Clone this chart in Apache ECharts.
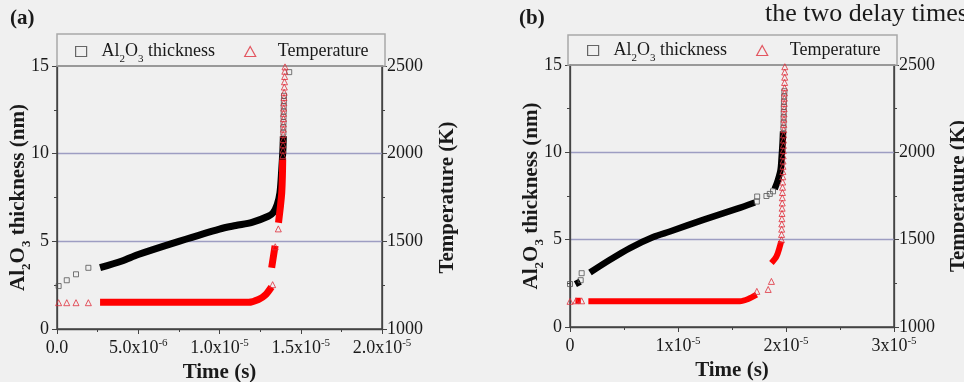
<!DOCTYPE html>
<html><head><meta charset="utf-8">
<script src="https://cdn.jsdelivr.net/npm/echarts@6/dist/echarts.min.js"></script>
<style>html,body{margin:0;padding:0;background:#f0f0f0;}#c{width:964px;height:382px;}</style>
</head><body><div id="c"></div>
<script>
// ---------- tick labels ----------
const xTicksA = ['0.0', '5.0x10^-6', '1.0x10^-5', '1.5x10^-5', '2.0x10^-5'];
const xTicksB = ['0', '1x10^-5', '2x10^-5', '3x10^-5'];

// ---------- panel (a) ----------
// open squares: Al2O3 thickness (nm) vs time (s)
const thickOpenA = [
  [0.1e-6, 2.45], [0.6e-6, 2.78], [1.17e-6, 3.12], [1.93e-6, 3.49],
  [13.93e-6, 11.2], [13.93e-6, 11.5], [13.94e-6, 11.8], [13.94e-6, 12.1],
  [13.95e-6, 12.4], [13.95e-6, 12.7], [13.96e-6, 13.0], [13.97e-6, 13.3],
  [14.29e-6, 14.65]
];
// densely packed squares (drawn as a thick band)
const thickBandA = [
  [2.65e-6, 3.5], [4e-6, 3.88], [5e-6, 4.25], [7.5e-6, 5.0], [10e-6, 5.7],
  [11e-6, 5.9], [12e-6, 6.08], [13e-6, 6.43], [13.3e-6, 6.63], [13.55e-6, 7.1],
  [13.72e-6, 7.77], [13.83e-6, 9.1], [13.9e-6, 10.2], [13.93e-6, 11.0]
];
// open triangles: temperature (K)
const tempOpenA = [
  [0.1e-6, 1150], [0.6e-6, 1150], [1.17e-6, 1150], [1.93e-6, 1150],
  [13.27e-6, 1253], [13.43e-6, 1469], [13.62e-6, 1571],
  [13.9e-6, 1990], [13.91e-6, 2020], [13.91e-6, 2050], [13.92e-6, 2080],
  [13.92e-6, 2110], [13.93e-6, 2140], [13.93e-6, 2170], [13.94e-6, 2200],
  [13.94e-6, 2230], [13.95e-6, 2260], [13.96e-6, 2290], [13.97e-6, 2320],
  [13.98e-6, 2350], [13.99e-6, 2380], [14.0e-6, 2410], [14.01e-6, 2440],
  [14.02e-6, 2470], [14.03e-6, 2495]
];
const tempBandA = [
  [2.65e-6, 1152], [11.8e-6, 1152], [12.4e-6, 1168], [12.8e-6, 1192], [13.2e-6, 1240],
  ['-', '-'],
  [13.21e-6, 1349], [13.42e-6, 1475],
  ['-', '-'],
  [13.63e-6, 1606], [13.75e-6, 1700], [13.83e-6, 1777], [13.87e-6, 1870], [13.89e-6, 1967]
];

// ---------- panel (b) ----------
const thickOpenB = [
  [0, 2.46], [0.99e-6, 2.68], [1.08e-6, 3.08],
  [17.3e-6, 7.18], [17.33e-6, 7.47], [18.19e-6, 7.5], [18.5e-6, 7.62], [18.8e-6, 7.77],
  [19.76e-6, 11.4], [19.77e-6, 11.7], [19.78e-6, 12.0], [19.79e-6, 12.3],
  [19.8e-6, 12.6], [19.81e-6, 12.9], [19.83e-6, 13.2], [19.85e-6, 13.5]
];
const thickBandB = [
  [0.5e-6, 2.45], [0.95e-6, 2.6],
  ['-', '-'],
  [1.85e-6, 3.12], [3.7e-6, 3.85], [5.55e-6, 4.52], [7.71e-6, 5.15], [9.25e-6, 5.47],
  [12.33e-6, 6.13], [15.42e-6, 6.76], [17.11e-6, 7.13],
  ['-', '-'],
  [18.95e-6, 7.9], [19.25e-6, 8.4], [19.5e-6, 9.0], [19.6e-6, 9.75], [19.68e-6, 10.5], [19.73e-6, 11.2]
];
const tempOpenB = [
  [0, 1147], [0.55e-6, 1150], [1.08e-6, 1150],
  [17.3e-6, 1204], [18.35e-6, 1215], [18.65e-6, 1261],
  [19.58e-6, 1500], [19.59e-6, 1530], [19.6e-6, 1560], [19.61e-6, 1590], [19.62e-6, 1620],
  [19.63e-6, 1650], [19.64e-6, 1680], [19.65e-6, 1710], [19.66e-6, 1740], [19.67e-6, 1770],
  [19.68e-6, 1800], [19.69e-6, 1830], [19.7e-6, 1860], [19.71e-6, 1890], [19.72e-6, 1920],
  [19.73e-6, 1950], [19.74e-6, 1980], [19.75e-6, 2010], [19.76e-6, 2040], [19.77e-6, 2070],
  [19.78e-6, 2100], [19.79e-6, 2130], [19.8e-6, 2160], [19.81e-6, 2190], [19.82e-6, 2220],
  [19.83e-6, 2250], [19.84e-6, 2280], [19.85e-6, 2310], [19.86e-6, 2340], [19.87e-6, 2370],
  [19.87e-6, 2400], [19.88e-6, 2430], [19.88e-6, 2460], [19.89e-6, 2490]
];
const tempBandB = [
  [0.5e-6, 1150], [1.0e-6, 1150],
  ['-', '-'],
  [1.7e-6, 1147], [15.73e-6, 1147], [16.5e-6, 1160], [17.27e-6, 1185],
  ['-', '-'],
  [18.65e-6, 1366], [19.12e-6, 1404], [19.43e-6, 1461], [19.55e-6, 1490]
];

// ---------- chart ----------
const FONT = 'Liberation Serif';
const TXT = '#1a1a1a';
const AXIS = '#444';
const GRIDC = '#9d9dc2';
const RED = '#ff0000';
const REDO = '#e0303c';

function supLabel(s) {
  const p = s.split('^');
  return p.length > 1 ? '{m|' + p[0] + '}{e|' + p[1] + '}' : '{m|' + p[0] + '}';
}
const supRich = {
  m: { fontFamily: FONT, fontSize: 18, color: TXT, lineHeight: 20 },
  e: { fontFamily: FONT, fontSize: 11, color: TXT, verticalAlign: 'top', padding: [0, 0, 5, 0] }
};
const subRich = (size, weight) => ({
  n: { fontFamily: FONT, fontSize: size, fontWeight: weight, color: TXT, lineHeight: size + 2 },
  s: { fontFamily: FONT, fontSize: Math.round(size * 0.6), fontWeight: weight, color: TXT, lineHeight: 11, padding: [16, 0, 0, 0] },
  p1: { fontFamily: FONT, fontSize: size, color: TXT, padding: [0, 0, 0, 10] },
  p2: { fontFamily: FONT, fontSize: size, color: TXT, padding: [0, 0, 0, 17] }
});
const thickName = '{n|Al}{s|2}{n|O}{s|3}{n| thickness (nm)}';

function xAxisFor(gi, max, interval, ticks) {
  return {
    type: 'value', gridIndex: gi, min: 0, max: max, interval: interval,
    axisLine: { show: true, lineStyle: { color: AXIS, width: 1.3 } },
    axisTick: { show: true, inside: false, length: 5, lineStyle: { color: AXIS } },
    minorTick: { show: true, splitNumber: 2, length: 3, lineStyle: { color: AXIS } },
    splitLine: { show: false },
    axisLabel: {
      margin: 9, showMinLabel: true, showMaxLabel: true, hideOverlap: false,
      formatter: v => supLabel(ticks[Math.round(v / interval)] || ''),
      rich: supRich
    },
    name: 'Time (s)', nameLocation: 'middle', nameGap: 33,
    nameTextStyle: { fontFamily: FONT, fontWeight: 'bold', fontSize: 21, color: TXT }
  };
}
function yLeft(gi) {
  return {
    type: 'value', gridIndex: gi, min: 0, max: 15, interval: 5, position: 'left',
    axisLine: { show: true, lineStyle: { color: AXIS, width: 1.3 } },
    axisTick: { show: true, inside: false, length: 5, lineStyle: { color: AXIS } },
    minorTick: { show: true, splitNumber: 2, length: 3, lineStyle: { color: AXIS } },
    splitLine: { show: true, showMinLine: false, showMaxLine: false, lineStyle: { color: GRIDC, width: 1.3 } },
    axisLabel: { margin: 8, fontFamily: FONT, fontSize: 18, color: TXT, formatter: v => String(v) },
    name: thickName, nameLocation: 'middle', nameGap: 27, nameRotate: 90, nameMoveOverlap: false,
    nameTextStyle: { rich: subRich(21, 'bold') }
  };
}
function yRight(gi, gap) {
  return {
    type: 'value', gridIndex: gi, min: 1000, max: 2500, interval: 500, position: 'right',
    axisLine: { show: true, lineStyle: { color: AXIS, width: 1.3 } },
    axisTick: { show: true, inside: false, length: 5, lineStyle: { color: AXIS } },
    minorTick: { show: true, splitNumber: 2, length: 3, lineStyle: { color: AXIS } },
    splitLine: { show: false },
    axisLabel: { margin: 5, fontFamily: FONT, fontSize: 18, color: TXT, formatter: v => String(v) },
    name: 'Temperature (K)', nameLocation: 'middle', nameGap: gap, nameRotate: 90,
    nameTextStyle: { fontFamily: FONT, fontWeight: 'bold', fontSize: 21, color: TXT }
  };
}
function band(name, xi, yi, data, color, w) {
  return {
    name: name, type: 'line', xAxisIndex: xi, yAxisIndex: yi, data: data,
    showSymbol: false, symbol: 'none', connectNulls: false, silent: true, smooth: 0.3,
    lineStyle: { color: color, width: w, cap: 'butt', join: 'round' }, z: 2
  };
}
function open(name, xi, yi, data, symbol, color, size) {
  return {
    name: name, type: 'scatter', xAxisIndex: xi, yAxisIndex: yi, data: data,
    symbol: symbol, symbolSize: size, silent: true,
    itemStyle: { color: 'transparent', borderColor: color, borderWidth: 1 }, z: 3
  };
}
const legendFmt = n => n === 'Al2O3 thickness'
  ? '{p1|Al}{s|2}{n|O}{s|3}{n| thickness}'
  : '{p2|Temperature}';
function legendFor(left, top) {
  return {
    left: left, top: top, padding: 0, orient: 'horizontal', itemWidth: 11, itemHeight: 10, itemGap: 29,
    selectedMode: false,
    data: [
      { name: 'Al2O3 thickness', icon: 'rect', itemStyle: { color: 'transparent', borderColor: '#444', borderWidth: 1.2 } },
      { name: 'Temperature', icon: 'triangle', itemStyle: { color: 'transparent', borderColor: REDO, borderWidth: 1.2 } }
    ],
    formatter: legendFmt,
    textStyle: { fontFamily: FONT, fontSize: 18, color: TXT, rich: subRich(18, 'normal') }
  };
}

const chart = echarts.init(document.getElementById('c'), null, { renderer: 'canvas' });
chart.setOption({
  backgroundColor: '#f0f0f0',
  animation: false,
  textStyle: { fontFamily: FONT },
  grid: [
    { left: 57, top: 66, width: 325, height: 263, containLabel: false, outerBoundsMode: 'none', show: true, borderColor: AXIS, borderWidth: 1.5, backgroundColor: 'transparent' },
    { left: 570, top: 65, width: 324, height: 262, containLabel: false, outerBoundsMode: 'none', show: true, borderColor: AXIS, borderWidth: 1.5, backgroundColor: 'transparent' }
  ],
  xAxis: [xAxisFor(0, 2e-5, 5e-6, xTicksA), xAxisFor(1, 3e-5, 1e-5, xTicksB)],
  yAxis: [yLeft(0), yRight(0, 55), yLeft(1), yRight(1, 54)],
  legend: [legendFor(75, 38), legendFor(587, 37)],
  series: [
    band('thickBandA', 0, 0, thickBandA, '#000', 7),
    band('tempBandA', 0, 1, tempBandA, RED, 7),
    open('Al2O3 thickness', 0, 0, thickOpenA, 'rect', '#555', 5),
    open('Temperature', 0, 1, tempOpenA, 'triangle', REDO, 6),
    band('thickBandB', 1, 2, thickBandB, '#000', 6.5),
    band('tempBandB', 1, 3, tempBandB, RED, 6),
    open('Al2O3 thickness', 1, 2, thickOpenB, 'rect', '#555', 5),
    open('Temperature', 1, 3, tempOpenB, 'triangle', REDO, 6)
  ],
  graphic: [
    { type: 'rect', shape: { x: 57, y: 34, width: 328, height: 32 }, style: { fill: 'transparent', stroke: '#a8a8a8', lineWidth: 1.5 }, z: 1, silent: true },
    { type: 'rect', shape: { x: 568, y: 35, width: 329, height: 30 }, style: { fill: 'transparent', stroke: '#a8a8a8', lineWidth: 1.5 }, z: 1, silent: true },
    { type: 'text', left: 10, top: 8, style: { text: '(a)', font: 'bold 21px "Liberation Serif"', fill: TXT } },
    { type: 'text', left: 519, top: 8, style: { text: '(b)', font: 'bold 21px "Liberation Serif"', fill: TXT } },
    { type: 'text', x: 765, y: 1, style: { text: 'the two delay times', font: '26px "Liberation Serif"', fill: TXT } }
  ]
});
</script>
</body></html>
